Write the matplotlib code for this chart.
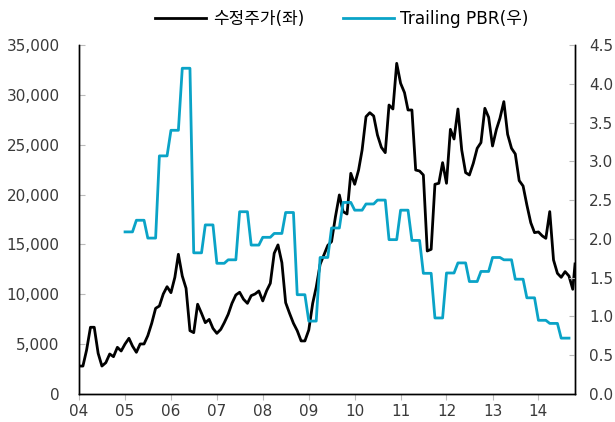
import numpy as np
import pandas as pd
import matplotlib
matplotlib.use("Agg")
import matplotlib.pyplot as plt
from matplotlib.ticker import FuncFormatter

plt.rcParams['font.family'] = ['DejaVu Sans', 'Noto Sans CJK KR']

# adjusted share price (monthly, Jan 2004 - Oct 2014) + last daily print
price_2004 = [2800, 2800, 4400, 6690, 6690, 4080, 2800, 3140, 4010, 3740, 4680, 4310]
price_2005 = [5015, 5585, 4810, 4180, 5015, 5015, 5850, 7090, 8590, 8825, 10030, 10760]
price_2006 = [10160, 11700, 14010, 11830, 10600, 6350, 6150, 9000, 8090, 7150, 7480, 6580]
price_2007 = [6080, 6480, 7150, 7990, 9090, 9930, 10200, 9500, 9090, 9860, 10030, 10330]
price_2008 = [9330, 10360, 11100, 14110, 14950, 13170, 9160, 8090, 7090, 6350, 5320, 5320]
price_2009 = [6420, 9090, 10700, 13000, 13940, 14900, 15280, 17780, 19960, 18290, 18050, 22130]
price_2010 = [21030, 22460, 24470, 27810, 28210, 27880, 25970, 24740, 24200, 28980, 28580, 33160]
price_2011 = [31160, 30220, 28480, 28480, 22460, 22360, 21960, 14340, 14510, 21030, 21130, 23200]
price_2012 = [21130, 26540, 25570, 28580, 24470, 22200, 21960, 23130, 24640, 25210, 28650, 27750]
price_2013 = [24870, 26540, 27650, 29320, 26040, 24640, 24070, 21400, 20860, 18960, 17180, 16180]
price_2014 = [16250, 15850, 15610, 18290, 13440, 12100, 11700, 12270, 11830, 10500, 13040]

# trailing PBR, quarterly (2005Q1 - 2014Q3)
pbr_q = [2.09, 2.24, 2.01, 3.07,
         3.40, 4.20, 1.82, 2.18,
         1.685, 1.73, 2.35, 1.92,
         2.02, 2.07, 2.34, 1.28,
         0.94, 1.76, 2.14, 2.47,
         2.37, 2.45, 2.50, 1.99,
         2.37, 1.98, 1.556, 0.98,
         1.56, 1.69, 1.45, 1.58,
         1.76, 1.73, 1.48, 1.24,
         0.95, 0.91, 0.72]

price = (price_2004 + price_2005 + price_2006 + price_2007 + price_2008 + price_2009
         + price_2010 + price_2011 + price_2012 + price_2013 + price_2014)
price_dates = list(pd.date_range('2004-01-01', periods=130, freq='MS')) + [pd.Timestamp('2014-10-19')]

pbr = np.repeat(pbr_q, 3)
pbr_dates = pd.date_range('2005-01-01', periods=len(pbr), freq='MS')

year_labels = ['04', '05', '06', '07', '08', '09', '10', '11', '12', '13', '14']

fig = plt.figure(figsize=(6.15, 4.22), dpi=100)
ax = fig.add_axes([0.1285, 0.0664, 0.8065, 0.827])
ax2 = ax.twinx()

l1, = ax.plot(price_dates, price, color='black', lw=2.0, label='수정주가(좌)')
l2, = ax2.plot(pbr_dates, pbr, color='#0AA3C7', lw=2.0, label='Trailing PBR(우)')

ax.set_xlim(price_dates[0], price_dates[-1])
ax.set_ylim(0, 35000)
ax2.set_ylim(0, 4.5)
ax.set_yticks(np.arange(0, 35001, 5000))
ax2.set_yticks(np.arange(0, 4.51, 0.5))
ax.yaxis.set_major_formatter(FuncFormatter(lambda v, p: f'{int(v):,}'))
ax2.yaxis.set_major_formatter(FuncFormatter(lambda v, p: f'{v:.1f}'))

ax.set_xticks([pd.Timestamp(f'20{y}-01-01') for y in year_labels])
ax.set_xticklabels(year_labels)

for a in (ax, ax2):
    a.spines['top'].set_visible(False)
    for s in a.spines.values():
        s.set_linewidth(1.0)
ax.tick_params(axis='y', direction='in', length=4, color='#bbbbbb', labelsize=11, labelcolor='#3a3a3a', pad=14)
ax2.tick_params(axis='y', direction='in', length=4, color='#bbbbbb', labelsize=11, labelcolor='#3a3a3a', pad=10)
ax.tick_params(axis='x', direction='out', length=4, color='#bbbbbb', labelsize=11, labelcolor='#3a3a3a', pad=3)

fig.legend(handles=[l1, l2], loc='upper center', bbox_to_anchor=(0.556, 1.012), ncol=2,
           frameon=False, fontsize=12.2, handlelength=3.0, columnspacing=2.3, handletextpad=0.4)

plt.savefig('out.png', dpi=100)
